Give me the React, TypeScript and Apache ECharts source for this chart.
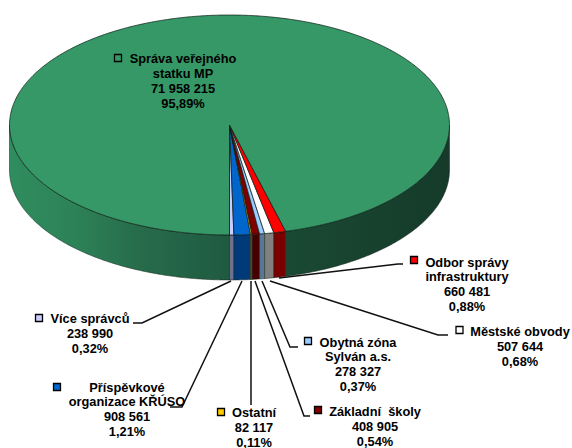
import React, { useEffect, useRef } from "react";
import * as echarts from "echarts";

const sliceNames = ["Více správců", "Příspěvkové organizace KŘÚSO", "Ostatní", "Základní školy", "Obytná zóna Sylván a.s.", "Městské obvody", "Odbor správy infrastruktury", "Správa veřejného statku MP"];
const sliceValues = [238990, 908561, 82117, 408905, 278327, 507644, 660481, 71958215];
const percentLabels = ["0,32%", "1,21%", "0,11%", "0,54%", "0,37%", "0,68%", "0,88%", "95,89%"];
const nameLines = [["Více správců"], ["Příspěvkové", "organizace KŘÚSO"], ["Ostatní"], ["Základní  školy"], ["Obytná zóna", "Sylván a.s."], ["Městské obvody"], ["Odbor správy", "infrastruktury"], ["Správa veřejného", "statku MP"]];
const topColors = ["#ccccff", "#0066cc", "#ffcc00", "#800000", "#99ccff", "#ffffff", "#ff0000", "#359866"];
const sideColors = ["#70708f", "#003a78", "#806600", "#470000", "#5a7896", "#808080", "#7a0000", "#1a4a33"];

// layout: label centre, first-line y, marker centre, leader polyline
const labelLayout = [
  { cx: 90, y: 318, mx: 39, my: 318, lh: 15, leader: [[133, 323], [142, 323], [231, 281]] },
  { cx: 127, y: 387, mx: 57, my: 387, lh: 14.7, leader: [[170, 407], [182, 407], [242, 281]] },
  { cx: 254, y: 412, mx: 221, my: 412, lh: 15, leader: [[251, 405], [251, 281]] },
  { cx: 375, y: 411, mx: 318, my: 410, lh: 15, leader: [[310, 416], [304, 416], [255, 281]] },
  { cx: 358, y: 342, mx: 308, my: 341, lh: 14.7, leader: [[298, 347], [290, 347], [262, 281]] },
  { cx: 520, y: 331, mx: 459.5, my: 330, lh: 15, leader: [[448, 335], [438, 335], [270, 281]] },
  { cx: 467, y: 262, mx: 414, my: 260, lh: 14.7, leader: [[403, 264], [398, 264], [279, 278]] },
  { cx: 183, y: 58, mx: 118, my: 58, lh: 15, leader: [] as number[][] },
];

const CX = 229.5, CY = 125, RX = 220, RY = 110, DEPTH = 45;
const total = sliceValues.reduce((a, b) => a + b, 0);
const starts: number[] = [];
sliceValues.reduce((acc, v, i) => { starts[i] = acc; return acc + v; }, 0);
const toAngle = (v: number) => (v / total) * Math.PI * 2;
const pt = (t: number, dy = 0) => [CX + RX * Math.sin(t), CY + RY * Math.cos(t) + dy];
const arc = (a: number, b: number, dy = 0) => {
  const n = Math.max(2, Math.ceil(Math.abs(b - a) / 0.01));
  const out: number[][] = [];
  for (let i = 0; i <= n; i++) out.push(pt(a + ((b - a) * i) / n, dy));
  return out;
};
const fmt = (v: number) => String(v).replace(/\B(?=(\d{3})+(?!\d))/g, " ");

const sidePoly = (a: number, b: number, fill: any) => ({
  type: "polygon",
  shape: { points: [...arc(a, b, 0), ...arc(b, a, DEPTH)] },
  style: { fill, stroke: "#10241a", lineWidth: 0.5 },
});

const grad = (x1: number, x2: number, stops: [number, string][]) =>
  new echarts.graphic.LinearGradient(x1, 0, x2, 0, stops.map(([offset, color]) => ({ offset, color })), true as any);

const renderSlice = (_: any, api: any) => {
  const i = api.value(0) as number;
  const a = toAngle(starts[i]);
  const b = a + toAngle(api.value(1) as number);
  const children: any[] = [];
  if (i === sliceValues.length - 1) {
    children.push(sidePoly(a, Math.PI / 2, grad(285, 449, [[0, "#1a4a33"], [1, "#153a2a"]])));
    children.push(sidePoly(1.5 * Math.PI, 2 * Math.PI, grad(9, 229, [[0, "#2f8d5e"], [0.3, "#2d8257"], [0.6, "#276b4b"], [1, "#1f5a40"]])));
  } else {
    children.push(sidePoly(a, b, sideColors[i]));
  }
  children.push({
    type: "polygon",
    shape: { points: [[CX, CY], ...arc(a, b)] },
    style: { fill: topColors[i], stroke: "#0a1a12", lineWidth: 0.7 },
  });
  return { type: "group", children };
};

const font = "bold 12.8px 'Liberation Sans', Arial, sans-serif";
const labelGraphics: any[] = [];
sliceNames.forEach((_, i) => {
  const l = labelLayout[i];
  if (l.leader.length) {
    labelGraphics.push({ type: "polyline", z: 20, shape: { points: l.leader }, style: { fill: "none", stroke: "#111", lineWidth: 1.5 } });
  }
  labelGraphics.push({ type: "rect", z: 21, shape: { x: l.mx - 3.5, y: l.my - 3.5, width: 7, height: 7 }, style: { fill: topColors[i], stroke: "#000", lineWidth: 1.3 } });
  [...nameLines[i], fmt(sliceValues[i]), percentLabels[i]].forEach((text, k) => {
    labelGraphics.push({
      type: "text", z: 21, x: l.cx, y: l.y + k * l.lh,
      style: { text, font, fill: "#000", align: "center", verticalAlign: "middle" },
    });
  });
});

export default function App() {
  const ref = useRef<HTMLDivElement>(null);
  useEffect(() => {
    document.body.style.margin = "0";
    const chart = echarts.init(ref.current!, null, { renderer: "svg" });
    chart.setOption({
      animation: false,
      backgroundColor: "#ffffff",
      graphic: { elements: labelGraphics },
      series: [{
        type: "custom",
        coordinateSystem: "none",
        renderItem: renderSlice,
        silent: true,
        data: sliceValues.map((v, i) => [i, v]),
      }],
    });
    return () => chart.dispose();
  }, []);
  return <div ref={ref} style={{ width: 572, height: 448 }} />;
}
